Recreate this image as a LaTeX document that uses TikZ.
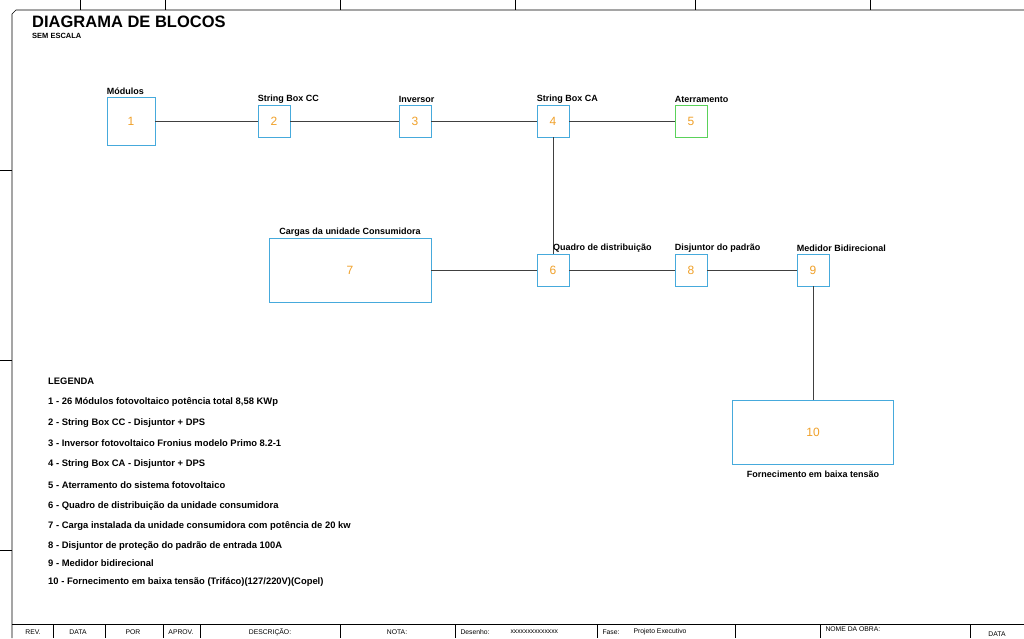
\documentclass[tikz,border=0pt]{standalone}
\usepackage{fontspec}
\setmainfont{Liberation Sans}
\definecolor{bx}{RGB}{70,170,220}
\definecolor{gr}{RGB}{90,210,90}
\definecolor{nm}{RGB}{240,160,40}
\begin{document}
\begin{tikzpicture}[x=1pt,y=-1pt,
 blk/.style={draw=bx,line width=0.8pt,fill=white,text=nm,font=\fontsize{12}{13}\selectfont},
 lbl/.style={font=\fontsize{9}{10}\selectfont\bfseries,anchor=south west,inner xsep=0pt},
 leg/.style={font=\fontsize{9.4}{10}\selectfont\bfseries,anchor=west,inner xsep=0pt},
 ln/.style={line width=0.7pt,draw=black!75}]
\useasboundingbox (0,0) rectangle (1024,638);
% frame
\draw[line width=0.6pt] (12,638) -- (12,14) -- (16,10) -- (1024,10);
\foreach \x in {80,165,340,515,695,870} \draw[line width=0.5pt] (\x,0)--(\x,10);
\foreach \y in {170,360,550} \draw[line width=0.5pt] (0,\y)--(12,\y);
\draw[line width=0.6pt] (12,624)--(1024,624);
\foreach \x in {53,105,163,200,340,455,597,735,820,970} \draw[line width=0.5pt] (\x,624)--(\x,638);
\begin{scope}[font=\fontsize{6.8}{7}\selectfont]
\node at (33,632) {REV.};
\node at (78,632) {DATA};
\node at (133,632) {POR};
\node at (181,632) {APROV.};
\node at (270,632) {DESCRIÇÃO:};
\node at (397,632) {NOTA:};
\node[anchor=west] at (457,632) {Desenho:};
\node[anchor=west] at (507,632) {xxxxxxxxxxxxxx};
\node[anchor=west] at (599,632) {Fase:};
\node[anchor=west] at (630,632) {Projeto Executivo};
\node[anchor=west] at (822,629) {NOME DA OBRA:};
\node at (997,634) {DATA};
\end{scope}
\node[anchor=west,inner xsep=0pt,font=\fontsize{16.5}{17}\selectfont\bfseries] at (32,22) {DIAGRAMA DE BLOCOS};
\node[anchor=west,inner xsep=0pt,font=\fontsize{7.5}{8}\selectfont\bfseries] at (32,36) {SEM ESCALA};
% blocks
\node[blk,minimum width=48pt,minimum height=48pt] (b1) at (131,121) {1};
\node[blk,minimum width=32pt,minimum height=32pt] (b2) at (274,121) {2};
\node[blk,minimum width=32pt,minimum height=32pt] (b3) at (415,121) {3};
\node[blk,minimum width=32pt,minimum height=32pt] (b4) at (553,121) {4};
\node[blk,draw=gr,minimum width=32pt,minimum height=32pt] (b5) at (691,121) {5};
\node[blk,minimum width=162pt,minimum height=64pt] (b7) at (350,270) {7};
\node[blk,minimum width=32pt,minimum height=32pt] (b6) at (553,270) {6};
\node[blk,minimum width=32pt,minimum height=32pt] (b8) at (691,270) {8};
\node[blk,minimum width=32pt,minimum height=32pt] (b9) at (813,270) {9};
\node[blk,minimum width=161pt,minimum height=64pt] (b10) at (813,432) {10};
\draw[ln] (b1)--(b2) (b2)--(b3) (b3)--(b4) (b4)--(b5) (b4)--(b6) (b7)--(b6) (b6)--(b8) (b8)--(b9) (b9)--(b10);
\node[lbl] at ([yshift=-2pt]b1.north west) {Módulos};
\node[lbl] at ([yshift=-2pt]b2.north west) {String Box CC};
\node[lbl] at ([yshift=-2pt]b3.north west) {Inversor};
\node[lbl] at ([yshift=-2pt]b4.north west) {String Box CA};
\node[lbl] at ([yshift=-2pt]b5.north west) {Aterramento};
\node[lbl,anchor=south] at ([yshift=-2pt]b7.north) {Cargas da unidade Consumidora};
\node[lbl] at ([xshift=0pt,yshift=-2pt]b6.north) {Quadro de distribuição};
\node[lbl] at ([yshift=-2pt]b8.north west) {Disjuntor do padrão};
\node[lbl] at ([yshift=-2pt]b9.north west) {Medidor Bidirecional};
\node[lbl,anchor=north] at ([yshift=-3pt]b10.south) {Fornecimento em baixa tensão};
% legend
\node[leg] at (48,381) {LEGENDA};
\node[leg] at (48,402) {1 - 26 Módulos fotovoltaico potência total 8,58 KWp};
\node[leg] at (48,423) {2 - String Box CC - Disjuntor + DPS};
\node[leg] at (48,443) {3 - Inversor fotovoltaico Fronius modelo Primo 8.2-1};
\node[leg] at (48,464) {4 - String Box CA - Disjuntor + DPS};
\node[leg] at (48,485) {5 - Aterramento do sistema fotovoltaico};
\node[leg] at (48,506) {6 - Quadro de distribuição da unidade consumidora};
\node[leg] at (48,526) {7 - Carga instalada da unidade consumidora com potência de 20 kw};
\node[leg] at (48,546) {8 - Disjuntor de proteção do padrão de entrada 100A};
\node[leg] at (48,563) {9 - Medidor bidirecional};
\node[leg] at (48,582) {10 - Fornecimento em baixa tensão (Trifáco)(127/220V)(Copel)};
\end{tikzpicture}
\end{document}
